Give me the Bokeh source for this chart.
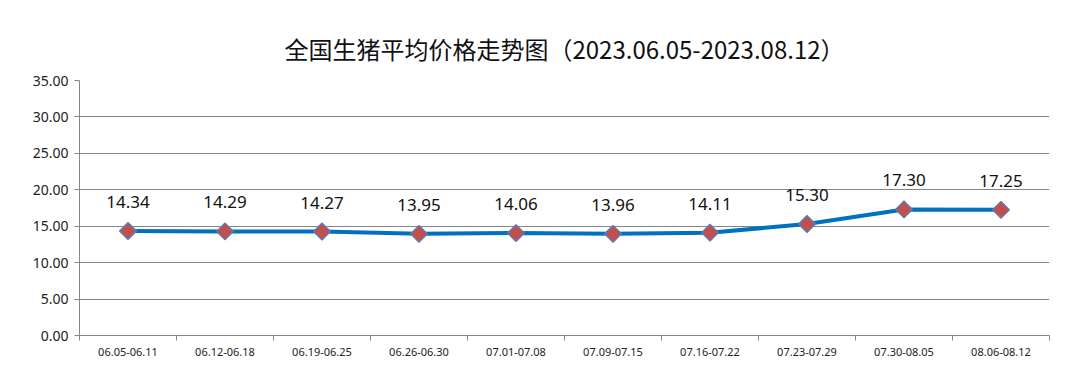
import math
from bokeh.plotting import figure
from bokeh.models import (ColumnDataSource, FixedTicker, NumeralTickFormatter, Range1d,
                          LabelSet, Label, Title, BoxAnnotation)
from bokeh.core.properties import value
from bokeh.embed import file_html
from bokeh.resources import INLINE

categories = ["06.05-06.11", "06.12-06.18", "06.19-06.25", "06.26-06.30", "07.01-07.08",
              "07.09-07.15", "07.16-07.22", "07.23-07.29", "07.30-08.05", "08.06-08.12"]
prices = [14.34, 14.29, 14.27, 13.95, 14.06, 13.96, 14.11, 15.30, 17.30, 17.25]
y_ticks = [0, 5, 10, 15, 20, 25, 30, 35]

xs = [i + 0.5 for i in range(len(categories))]
src = ColumnDataSource(dict(x=xs, y=prices, lab=["%.2f" % v for v in prices]))

p = figure(width=1080, height=381, output_backend="svg", toolbar_location=None,
           x_range=Range1d(0, len(categories)), y_range=Range1d(0, 35),
           min_border_left=79, min_border_right=31, min_border_top=80, min_border_bottom=46)
p.background_fill_color = "white"
p.border_fill_color = "white"
p.outline_line_color = None

GRAY = "#868686"
p.xgrid.grid_line_color = None
p.ygrid.grid_line_color = GRAY
p.ygrid.ticker = FixedTicker(ticks=y_ticks)

p.yaxis.ticker = FixedTicker(ticks=y_ticks)
p.yaxis.formatter = NumeralTickFormatter(format="0.00")
p.yaxis.axis_line_color = GRAY
p.yaxis.major_tick_line_color = GRAY
p.yaxis.major_tick_out = 5
p.yaxis.major_tick_in = 0
p.yaxis.minor_tick_line_color = None
p.yaxis.major_label_text_font = "Noto Sans"
p.yaxis.major_label_text_font_size = "14px"
p.yaxis.major_label_text_color = "#222222"
p.yaxis.major_label_standoff = 6

p.xaxis.ticker = FixedTicker(ticks=xs, minor_ticks=list(range(len(categories) + 1)))
p.xaxis.major_label_overrides = {x: c for x, c in zip(xs, categories)}
p.xaxis.axis_line_color = GRAY
p.xaxis.major_tick_line_color = None
p.xaxis.major_tick_out = 0
p.xaxis.minor_tick_line_color = GRAY
p.xaxis.minor_tick_out = 5
p.xaxis.minor_tick_in = 0
p.xaxis.major_label_text_font = "Noto Sans"
p.xaxis.major_label_text_font_size = "11px"
p.xaxis.major_label_text_color = "#222222"
p.xaxis.major_label_standoff = 7

p.line("x", "y", source=src, line_color="#0070C0", line_width=4)
p.scatter("x", "y", source=src, marker="square", size=12, angle=math.pi / 4,
          fill_color="#C0504D", line_color="#4F81BD", line_width=1.2)

labels = LabelSet(x="x", y="y", text="lab", source=src, y_offset=23, text_align="center",
                  text_baseline="bottom", text_font=value("Noto Sans"),
                  text_font_size=value("17px"), text_color=value("#111111"))
p.add_layout(labels)

p.add_layout(Title(text="全国生猪平均价格走势图（2023.06.05-2023.08.12）", align="center",
                   text_font="Noto Sans CJK SC", text_font_size="24px", text_font_style="normal",
                   text_color="#111111", offset=-10, standoff=30), "above")

p.add_layout(Label(x=22, y=56, x_units="canvas", y_units="canvas", text="元/kg",
                   text_font="Noto Sans CJK SC", text_font_size="13px",
                   text_color="#111111", text_baseline="middle"))

p.add_layout(BoxAnnotation(left=3, right=1074, top=3, bottom=377, left_units="canvas",
                           right_units="canvas", top_units="canvas", bottom_units="canvas",
                           fill_color=None, line_color="#8c8c8c", line_width=1))

out = file_html(p, INLINE)
open("out.html", "w").write(out)
